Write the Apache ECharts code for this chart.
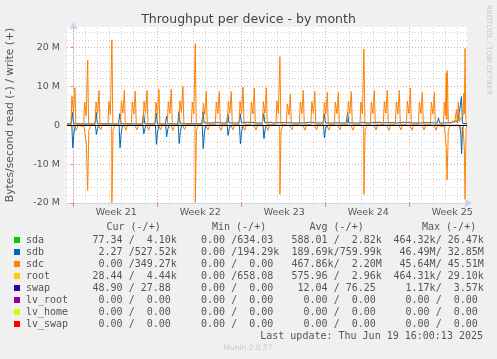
<!DOCTYPE html>
<html><head><meta charset="utf-8">
<script src="https://cdn.jsdelivr.net/npm/echarts@6/dist/echarts.min.js"></script>
<style>html,body{margin:0;padding:0;background:#f0f0f0;}#c{width:497px;height:359px;}</style>
</head><body><div id="c"></div>
<script>
// x values: days since Monday 19 May 2025 00:00 (start of Week 21); y values: MB/s
const weekLabels = ['Week 21', 'Week 22', 'Week 23', 'Week 24', 'Week 25'];
const weekStartDays = [0, 7, 14, 21, 28];
const weekLabelDays = [3.55, 10.55, 17.55, 24.55, 31.55];
const yLabelValues = [-20, -10, 0, 10, 20];

// sdc write (+), MB/s
const sdcWrite = [
 [-0.55,0.2],[-0.22,0.2],[-0.14,7.6],[-0.01,3.0],[0.11,9.7],[0.19,0.3],
 [0.84,0.2],[0.92,5.9],[1.05,2.5],[1.17,16.8],[1.25,0.3],
 [1.79,0.2],[1.87,6.0],[2.00,3.0],[2.12,8.9],[2.20,0.3],
 [2.86,0.2],[2.94,6.1],[3.07,2.8],[3.19,22.0],[3.27,0.3],
 [3.90,0.2],[3.98,6.3],[4.11,3.2],[4.23,9.0],[4.31,0.3],
 [4.81,0.2],[4.89,6.0],[5.02,2.9],[5.14,8.8],[5.22,0.3],
 [5.79,0.2],[5.87,6.2],[6.00,3.1],[6.12,9.0],[6.20,0.3],
 [6.78,0.2],[6.86,5.9],[6.99,2.8],[7.11,9.3],[7.19,0.3],
 [7.81,0.2],[7.89,6.1],[8.02,3.0],[8.14,9.3],[8.22,0.3],
 [8.78,0.2],[8.86,6.3],[8.99,3.2],[9.11,10.0],[9.19,0.3],
 [9.81,0.2],[9.89,6.0],[10.02,2.9],[10.14,21.0],[10.22,0.3],
 [10.73,0.2],[10.81,5.7],[10.94,2.8],[11.06,8.7],[11.14,0.3],
 [11.81,0.2],[11.89,6.0],[12.02,3.0],[12.14,8.7],[12.22,0.3],
 [12.81,0.2],[12.89,6.1],[13.02,3.1],[13.14,8.7],[13.22,0.3],
 [13.79,0.2],[13.87,6.2],[14.00,3.0],[14.12,9.8],[14.20,0.3],
 [14.73,0.2],[14.81,6.0],[14.94,2.9],[15.06,9.6],[15.14,0.3],
 [15.73,0.2],[15.81,6.1],[15.94,3.1],[16.06,9.7],[16.14,0.3],
 [16.86,0.2],[16.94,6.3],[17.07,3.0],[17.19,17.7],[17.27,0.3],
 [17.73,0.2],[17.81,5.5],[17.94,2.7],[18.06,8.1],[18.14,0.3],
 [18.81,0.2],[18.89,6.0],[19.02,3.0],[19.14,9.0],[19.22,0.3],
 [19.77,0.2],[19.85,6.1],[19.98,3.0],[20.10,8.7],[20.18,0.3],
 [20.81,0.2],[20.89,5.9],[21.02,2.9],[21.14,8.5],[21.22,0.3],
 [21.73,0.2],[21.81,6.0],[21.94,3.0],[22.06,8.5],[22.14,0.3],
 [22.81,0.2],[22.89,6.1],[23.02,3.0],[23.14,8.7],[23.22,0.3],
 [23.86,0.2],[23.94,6.0],[24.07,2.9],[24.19,19.6],[24.27,0.3],
 [24.73,0.2],[24.81,6.0],[24.94,3.0],[25.06,9.0],[25.14,0.3],
 [25.81,0.2],[25.89,6.1],[26.02,3.1],[26.14,9.0],[26.22,0.3],
 [26.81,0.2],[26.89,6.0],[27.02,2.9],[27.14,9.0],[27.22,0.3],
 [27.73,0.2],[27.81,6.2],[27.94,3.0],[28.06,9.6],[28.14,0.3],
 [28.73,0.2],[28.81,6.0],[28.94,3.0],[29.06,8.5],[29.14,0.3],
 [29.73,0.2],[29.81,6.0],[29.94,2.9],[30.06,8.5],[30.14,0.3],
 [30.81,0.2],[30.89,6.0],[30.98,2.5],[31.05,13.5],[31.10,1.5],[31.14,14.1],[31.22,0.8],
 [31.40,0.5],[31.60,1.2],[31.75,0.6],[31.90,4.0],[31.97,0.8],[32.06,5.9],[32.14,1.0],
 [32.30,1.5],[32.45,2.5],[32.52,8.3],[32.56,3.0],[32.62,19.8],[32.68,1.0],[32.78,0.5]
];
// sdc read (-), MB/s (magnitude)
const sdcRead = [
 [-0.55,0.05],[0.09,0.05],[0.23,1.3],[0.35,0.05],
 [0.87,0.3],[1.07,5.0],[1.17,16.8],[1.27,1.3],[1.43,0.05],
 [2.10,0.05],[2.26,1.2],[2.38,0.05],
 [3.17,0.05],[3.19,19.9],[3.29,1.3],[3.45,0.05],
 [4.21,0.05],[4.37,1.3],[4.49,0.05],
 [5.12,0.05],[5.28,1.2],[5.40,0.05],
 [6.10,0.05],[6.26,1.3],[6.38,0.05],
 [7.09,0.05],[7.25,1.2],[7.37,0.05],
 [8.12,0.05],[8.28,1.3],[8.40,0.05],
 [9.09,0.05],[9.25,1.2],[9.37,0.05],
 [10.12,0.05],[10.14,19.8],[10.24,1.3],[10.40,0.05],
 [11.04,0.05],[11.20,1.2],[11.32,0.05],
 [12.12,0.05],[12.28,1.3],[12.40,0.05],
 [13.12,0.05],[13.28,1.2],[13.40,0.05],
 [14.10,0.05],[14.26,1.3],[14.38,0.05],
 [15.04,0.05],[15.20,1.2],[15.32,0.05],
 [16.04,0.05],[16.20,1.3],[16.32,0.05],
 [17.17,0.05],[17.19,17.8],[17.29,1.3],[17.45,0.05],
 [18.04,0.05],[18.20,1.2],[18.32,0.05],
 [19.12,0.05],[19.28,1.3],[19.40,0.05],
 [20.08,0.05],[20.24,1.2],[20.36,0.05],
 [21.12,0.05],[21.28,1.3],[21.40,0.05],
 [22.04,0.05],[22.20,1.2],[22.32,0.05],
 [23.12,0.05],[23.28,1.3],[23.40,0.05],
 [24.17,0.05],[24.19,17.8],[24.29,1.3],[24.45,0.05],
 [25.04,0.05],[25.20,1.2],[25.32,0.05],
 [26.12,0.05],[26.28,1.3],[26.40,0.05],
 [27.12,0.05],[27.28,1.2],[27.40,0.05],
 [28.04,0.05],[28.20,1.3],[28.32,0.05],
 [29.04,0.05],[29.20,1.2],[29.32,0.05],
 [30.04,0.05],[30.20,1.3],[30.32,0.05],
 [30.90,0.3],[31.05,6.0],[31.12,14.1],[31.22,1.5],[31.36,0.1],
 [32.10,0.1],[32.20,1.0],[32.45,0.5],[32.56,6.0],[32.62,19.0],[32.70,1.0],[32.78,0.2]
];
// sdb write (+), MB/s
const sdbWrite = [
 [-0.55,0.35],[-0.20,0.35],[-0.10,3.3],[0.00,0.4],
 [1.78,0.35],[1.88,3.3],[1.98,0.4],
 [3.75,0.35],[3.85,3.0],[3.95,0.4],
 [5.73,0.35],[5.83,3.3],[5.93,0.4],
 [6.78,0.35],[6.88,3.2],[6.98,0.4],
 [7.65,0.35],[7.75,2.4],[7.85,0.4],
 [8.68,0.35],[8.78,3.5],[8.88,0.4],
 [10.68,0.4],[10.78,3.5],[10.88,0.6],
 [11.50,0.6],[11.90,0.7],[12.30,0.6],
 [12.75,0.6],[12.85,3.0],[12.95,0.6],
 [13.78,0.6],[13.88,3.0],[13.98,0.6],
 [14.50,0.8],[14.60,0.6],[15.20,0.6],
 [15.74,0.6],[15.84,3.0],[15.94,0.6],
 [16.40,0.8],[16.60,0.6],[17.50,0.7],[18.30,0.6],[19.20,0.6],[19.60,0.8],[20.20,0.6],
 [20.78,0.6],[20.88,3.0],[20.98,0.6],
 [21.50,0.6],[22.10,0.6],
 [22.73,0.6],[22.83,3.3],[22.93,0.6],
 [23.60,0.6],[24.20,0.7],[24.60,0.6],[25.50,0.8],[25.70,0.6],[26.50,0.7],[27.00,0.6],
 [27.50,0.8],[28.20,0.6],[29.00,0.6],[29.50,0.7],[30.00,0.6],
 [30.30,0.6],[30.40,1.9],[30.50,0.6],
 [31.00,0.6],[31.50,0.7],[31.90,1.2],[32.00,0.6],[32.15,0.8],[32.22,5.0],[32.32,7.4],[32.40,0.5],[32.78,0.4]
];
// sdb read (-), MB/s (magnitude)
const sdbRead = [
 [-0.55,0],[-0.15,0],[-0.07,5.8],[0.03,2.0],[0.15,0],
 [1.82,0],[1.90,2.4],[2.00,0.8],[2.10,0],
 [3.79,0],[3.87,5.8],[3.97,2.0],[4.07,0],
 [5.77,0],[5.85,2.2],[5.95,0.8],[6.05,0],
 [6.82,0],[6.90,4.9],[7.00,1.7],[7.10,0],
 [7.67,0],[7.75,3.0],[7.85,1.0],[7.95,0],
 [8.72,0],[8.80,4.7],[8.90,1.6],[9.00,0],
 [10.72,0],[10.80,6.0],[10.90,2.0],[11.00,0],
 [12.79,0],[12.87,2.6],[12.97,0.9],[13.07,0],
 [13.82,0],[13.90,4.8],[14.00,1.6],[14.10,0],
 [15.78,0],[15.86,3.4],[15.96,1.1],[16.06,0],
 [20.82,0],[20.90,3.2],[21.00,1.0],[21.10,0],
 [32.20,0],[32.28,3.0],[32.33,7.3],[32.40,1.0],[32.50,0],[32.78,0]
];

// legend table
const legendNames = ['sda', 'sdb', 'sdc', 'root', 'swap', 'lv_root', 'lv_home', 'lv_swap'];
const legendColors = ['#00CC00', '#0066B3', '#FF8000', '#FFCC00', '#330099', '#990099', '#CCFF00', '#FF0000'];
const curText = [' 77.34 /  4.10k', '  2.27 /527.52k', '  0.00 /349.27k', ' 28.44 /  4.44k', ' 48.90 / 27.88 ', '  0.00 /  0.00 ', '  0.00 /  0.00 ', '  0.00 /  0.00 '];
const minText = ['  0.00 /634.03 ', '  0.00 /194.29k', '  0.00 /  0.00 ', '  0.00 /658.08 ', '  0.00 /  0.00 ', '  0.00 /  0.00 ', '  0.00 /  0.00 ', '  0.00 /  0.00 '];
const avgText = ['588.01 /  2.82k', '189.69k/759.99k', '467.86k/  2.20M', '575.96 /  2.96k', ' 12.04 / 76.25 ', '  0.00 /  0.00 ', '  0.00 /  0.00 ', '  0.00 /  0.00 '];
const maxText = ['464.32k/ 26.47k', ' 46.49M/ 32.85M', ' 45.64M/ 45.51M', '464.31k/ 29.10k', '  1.17k/  3.57k', '  0.00 /  0.00 ', '  0.00 /  0.00 ', '  0.00 /  0.00 '];
const headerText = ['Cur (-/+)', 'Min (-/+)', 'Avg (-/+)', 'Max (-/+)'];
const titleText = 'Throughput per device - by month';
const yAxisTitle = 'Bytes/second read (-) / write (+)';
const lastUpdate = 'Last update: Thu Jun 19 16:00:13 2025';
const footer = 'Munin 2.0.57';
const sideText = 'RRDTOOL / TOBI OETIKER';

const X_MIN = -0.55, X_MAX = 32.78, Y_MIN = -20, Y_MAX = 25.3;
const gridGray = '#cfcfcf', gridRed = '#e6a3a3', axisCol = '#cdd2f0', textCol = '#555';

const vLines = [];
for (let d = Math.ceil(X_MIN); d <= X_MAX; d++) {
  vLines.push({ xAxis: d, lineStyle: { color: weekStartDays.includes(d) ? gridRed : gridGray } });
}
for (let v = Y_MIN + 2; v < Y_MAX; v += 2) {
  vLines.push({ yAxis: v, lineStyle: { color: v % 10 === 0 ? gridRed : gridGray } });
}

const neg = arr => arr.map(p => [p[0], -p[1]]);

const graphics = [];
graphics.push({ type: 'text', x: 248.5, y: 19.5, style: { text: titleText, fill: '#444', font: '12.5px "DejaVu Sans"', textAlign: 'center', textVerticalAlign: 'middle' } });
graphics.push({ type: 'text', x: 10, y: 115, rotation: Math.PI / 2, style: { text: yAxisTitle, fill: textCol, font: '10.8px "DejaVu Sans"', textAlign: 'center', textVerticalAlign: 'middle' } });
graphics.push({ type: 'text', x: 489, y: 5, rotation: -Math.PI / 2, style: { text: sideText, fill: '#c8c8c8', font: '7px "DejaVu Sans"', textAlign: 'left', textVerticalAlign: 'middle' } });
const headerX = [106.5, 212, 309.5, 422];
headerText.forEach((t, i) => graphics.push({ type: 'text', x: headerX[i], y: 227.5, style: { text: t, fill: textCol, font: '10px "DejaVu Sans Mono"', textAlign: 'left', textVerticalAlign: 'middle' } }));
const colX = [86.5, 189, 291.5, 393.5];
const cols = [curText, minText, avgText, maxText];
legendNames.forEach((n, i) => {
  const cy = 240 + 12 * i;
  graphics.push({ type: 'rect', shape: { x: 14, y: cy - 3, width: 6, height: 6 }, style: { fill: legendColors[i] } });
  graphics.push({ type: 'text', x: 26, y: cy, style: { text: n, fill: textCol, font: '10px "DejaVu Sans Mono"', textAlign: 'left', textVerticalAlign: 'middle' } });
  cols.forEach((c, j) => graphics.push({ type: 'text', x: colX[j], y: cy, style: { text: c[i], fill: textCol, font: '10px "DejaVu Sans Mono"', textAlign: 'left', textVerticalAlign: 'middle' } }));
});
graphics.push({ type: 'text', x: 483, y: 336, style: { text: lastUpdate, fill: textCol, font: '10px "DejaVu Sans Mono"', textAlign: 'right', textVerticalAlign: 'middle' } });
graphics.push({ type: 'text', x: 248, y: 348, style: { text: footer, fill: '#c8c8c8', font: '7.5px "DejaVu Sans"', textAlign: 'center', textVerticalAlign: 'middle' } });

const chart = echarts.init(document.getElementById('c'), null, { renderer: 'canvas' });
const lineBase = { type: 'line', showSymbol: false, symbol: 'none', animation: false, silent: true, lineStyle: { width: 1 } };
chart.setOption({
  backgroundColor: '#f0f0f0',
  animation: false,
  grid: { left: 67, right: 30, top: 27, bottom: 156, show: true, backgroundColor: '#ffffff', borderWidth: 0 },
  xAxis: {
    type: 'value', min: X_MIN, max: X_MAX,
    splitLine: { show: false },
    axisLine: { show: true, onZero: false, lineStyle: { color: axisCol, width: 1 }, symbol: ['none', 'arrow'], symbolSize: [7, 8], symbolOffset: [0, 5] },
    axisTick: { show: true, customValues: weekStartDays, length: 4, lineStyle: { color: '#e08080' } },
    axisLabel: { customValues: weekLabelDays, color: textCol, fontSize: 9.5, fontFamily: 'DejaVu Sans', margin: 5,
      formatter: v => { const i = weekLabelDays.findIndex(m => Math.abs(m - v) < 0.01); return i >= 0 ? weekLabels[i] : ''; } }
  },
  yAxis: {
    type: 'value', min: Y_MIN, max: Y_MAX,
    splitLine: { show: false },
    axisLine: { show: true, lineStyle: { color: axisCol, width: 1 }, symbol: ['none', 'arrow'], symbolSize: [7, 8], symbolOffset: [0, 5] },
    axisTick: { show: true, customValues: yLabelValues, length: 3, lineStyle: { color: '#e08080' } },
    axisLabel: { customValues: yLabelValues, color: textCol, fontSize: 9.5, fontFamily: 'DejaVu Sans', margin: 7,
      formatter: v => v === 0 ? '0' : v + ' M' }
  },
  graphic: graphics,
  series: [
    Object.assign({}, lineBase, { name: 'sdb read', data: neg(sdbRead), z: 3, lineStyle: { width: 1, color: '#0066B3' }, itemStyle: { color: '#0066B3' },
      markLine: { silent: true, z: 1, symbol: ['none', 'none'], label: { show: false }, animation: false, lineStyle: { type: [1, 2], width: 1 }, emphasis: { disabled: true }, data: vLines } }),
    Object.assign({}, lineBase, { name: 'sdb write', data: sdbWrite, z: 3, lineStyle: { width: 1, color: '#0066B3' }, itemStyle: { color: '#0066B3' } }),
    Object.assign({}, lineBase, { name: 'sdc read', data: neg(sdcRead), z: 4, lineStyle: { width: 1, color: '#FF8000' }, itemStyle: { color: '#FF8000' } }),
    Object.assign({}, lineBase, { name: 'sdc write', data: sdcWrite, z: 4, lineStyle: { width: 1, color: '#FF8000' }, itemStyle: { color: '#FF8000' },
      markLine: { silent: true, z: 6, symbol: ['none', 'none'], label: { show: false }, animation: false, lineStyle: { type: 'solid', width: 1, color: '#000' }, emphasis: { disabled: true }, data: [{ yAxis: 0 }] } })
  ]
});
</script>
</body></html>
